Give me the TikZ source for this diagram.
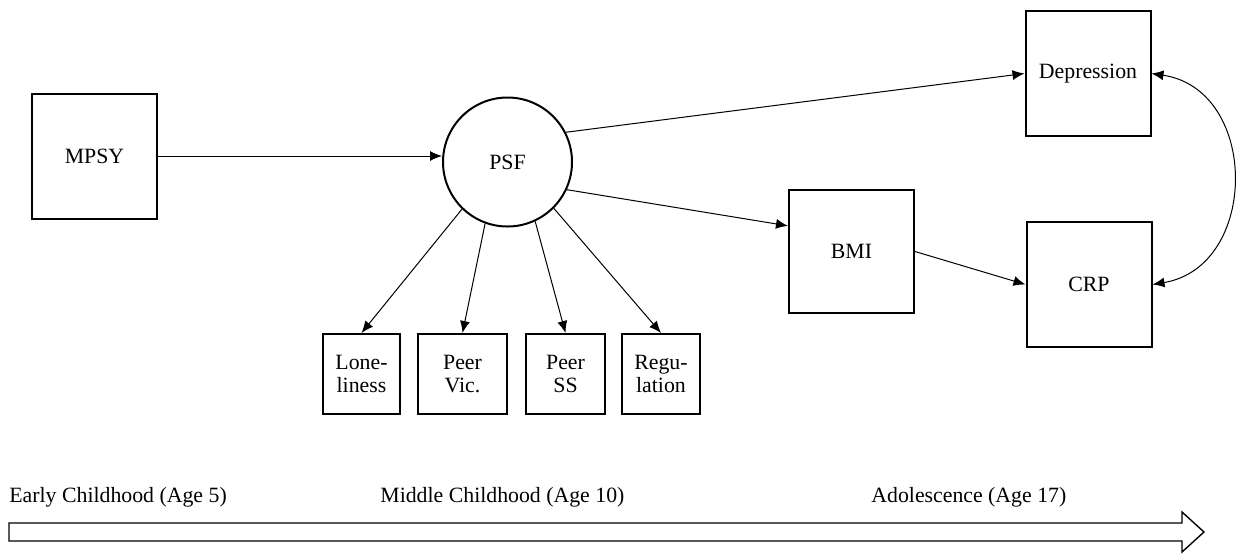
\documentclass[tikz,border=0pt]{standalone}
\usepackage{fontspec}
\setmainfont{Liberation Serif}
\usepackage{tikz}
\usetikzlibrary{arrows.meta,calc}
\tikzset{
    box/.style={draw, line width=1pt, inner sep=0pt, minimum width=62.5pt, minimum height=62.5pt, font=\fontsize{10.9}{12}\selectfont},
    smallbox/.style={draw, line width=1pt, inner sep=0pt, minimum height=40pt, align=center, font=\fontsize{10.9}{11.7}\selectfont},
    circ/.style={draw, circle, line width=1pt, inner sep=0pt, minimum size=64.5pt, font=\fontsize{10.9}{12}\selectfont},
    path/.style={line width=0.5pt, -{Latex[length=6pt,width=5pt]}},
    agelabel/.style={anchor=west, inner sep=0pt, font=\fontsize{10.9}{12}\selectfont}}

\begin{document}
\begin{tikzpicture}[x=0.5pt,y=-0.5pt]
\useasboundingbox (0,0) rectangle (1242,553);
\node[box] (mpsy) at (94.5,156) {MPSY};
\node[circ] (psf) at (507.5,162) {PSF};
\node[box] (dep) at (1088,73.5) {Depression};
\node[box, minimum height=61.5pt] (bmi) at (851.5,251.5) {BMI};
\node[box] (crp) at (1089,284.5) {CRP};

\node[smallbox, minimum width=38.5pt] (lone) at (361.5,374) {Lone-\\liness};
\node[smallbox, minimum width=44.5pt] (vic) at (462.5,374) {Peer\\Vic.};
\node[smallbox, minimum width=39.5pt] (ss) at (565.5,374) {Peer\\SS};
\node[smallbox, minimum width=39pt] (regu) at (661,374) {Regu-\\lation};

\draw[path] (mpsy.east) -- (psf.west |- mpsy.east);
\draw[path] (psf.27) -- (dep.west);
\draw[path] (psf.-25) -- (bmi.158);
\draw[path] (bmi.east) -- (crp.west);
\draw[path] (psf.-134) -- (lone.north);
\draw[path] (psf.-110) -- (vic.north);
\draw[path] (psf.-65) -- (ss.north);
\draw[path] (psf.-45) -- (regu.north);
\draw[line width=0.5pt, {Latex[length=6pt,width=5pt]}-{Latex[length=6pt,width=5pt]}]
    (dep.east) .. controls +(108,16) and +(107,-18) .. (crp.east);

% timeline
\node[agelabel] (early) at (9,497) {Early Childhood (Age 5)};
\node[agelabel] (middle) at (380,497) {Middle Childhood (Age 10)};
\node[agelabel] (adol) at (871,497) {Adolescence (Age 17)};
\draw[line width=0.7pt] (9,523) -- (1182,523) -- (1182,512) -- (1204,532) -- (1182,552) -- (1182,541) -- (9,541) -- cycle;
\end{tikzpicture}
\end{document}
